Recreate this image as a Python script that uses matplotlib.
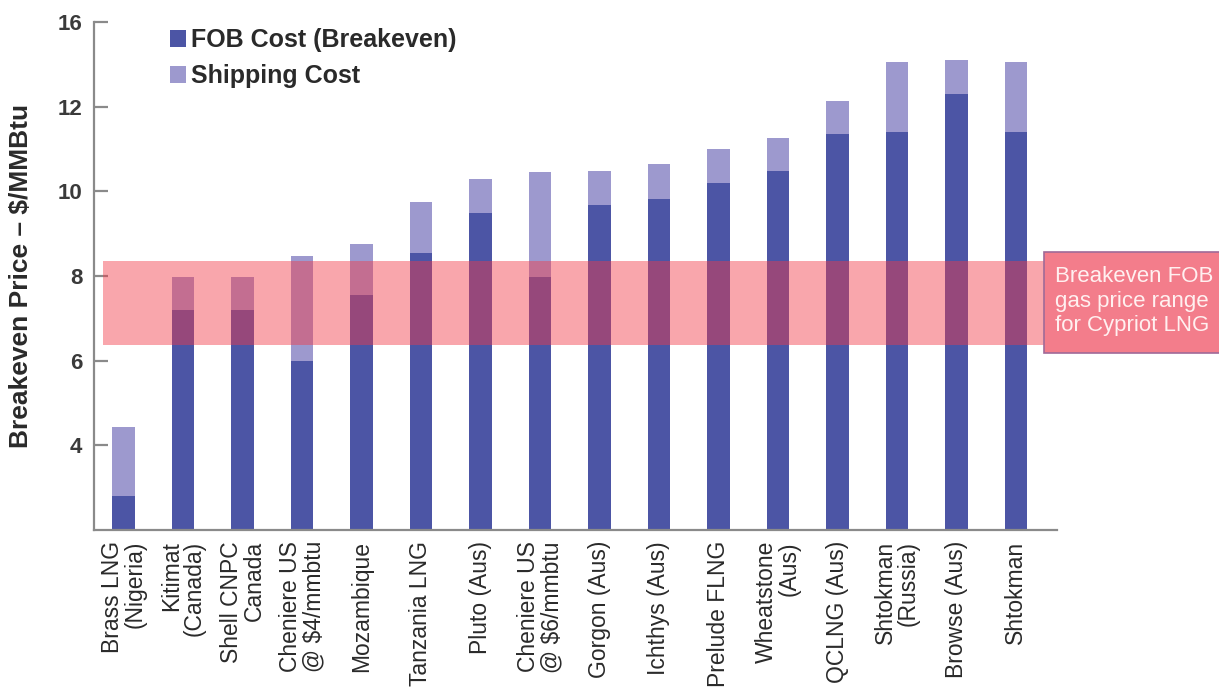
import matplotlib
matplotlib.use("Agg")
import matplotlib.pyplot as plt
from matplotlib.patches import Rectangle
import numpy as np

plt.rcParams['font.family'] = ['Liberation Sans', 'DejaVu Sans']

categories = ["Brass LNG\n(Nigeria)", "Kitimat\n(Canada)", "Shell CNPC\nCanada",
              "Cheniere US\n@ $4/mmbtu", "Mozambique", "Tanzania LNG", "Pluto (Aus)",
              "Cheniere US\n@ $6/mmbtu", "Gorgon (Aus)", "Ichthys (Aus)", "Prelude FLNG",
              "Wheatstone\n(Aus)", "QCLNG (Aus)", "Shtokman\n(Russia)", "Browse (Aus)", "Shtokman"]
fob_cost = [2.8, 7.2, 7.2, 6.0, 7.55, 8.55, 9.5, 7.97, 9.68, 9.83, 10.2, 10.47, 11.35, 11.39, 12.3, 11.39]
total_cost = [4.43, 7.98, 7.98, 8.47, 8.76, 9.75, 10.28, 10.46, 10.48, 10.65, 11.0, 11.27, 12.14, 13.05, 13.1, 13.05]
shipping_cost = [t - f for t, f in zip(total_cost, fob_cost)]
band_range = [6.38, 8.35]
ytick_values = [4, 6, 8, 10, 12, 14]
ytick_labels = ["4", "6", "8", "10", "12", "16"]
legend_labels = ["FOB Cost (Breakeven)", "Shipping Cost"]
band_text = "Breakeven FOB\ngas price range\nfor Cypriot LNG"
ylabel = "Breakeven Price \u2013 $/MMBtu"

W, H = 1219, 695
fig = plt.figure(figsize=(W / 100, H / 100), dpi=100)
ax = fig.add_axes([94 / W, 1 - 530 / H, (1057 - 94) / W, (530 - 22) / H])

dark = "#4C55A5"
light = "#9D99CE"
x = np.arange(len(categories))
bw = 0.38
ax.bar(x, fob_cost, width=bw, color=dark, bottom=0, zorder=2, label=legend_labels[0])
ax.bar(x, shipping_cost, width=bw, bottom=fob_cost, color=light, zorder=2, label=legend_labels[1])

ax.set_xlim(-0.496, 15.69)
ax.set_ylim(2.0, 14.0)

# band
band = Rectangle((-0.345, band_range[0]), 15.69 + 0.345, band_range[1] - band_range[0],
                 facecolor="#F23A48", alpha=0.45, edgecolor="none", zorder=3, clip_on=False)
ax.add_patch(band)

# annotation box in figure pixels
box = Rectangle((1044 / W, 1 - 353 / H), (W - 1044) / W + 0.01, (353 - 252) / H,
                transform=fig.transFigure, facecolor="#F37D8B", edgecolor="#A06A98",
                linewidth=1.2, zorder=5)
fig.patches.append(box)
fig.text(1055 / W, 1 - 301 / H, band_text, color="#FFF0F0", fontsize=16,
         ha="left", va="center", linespacing=1.22, zorder=6)

for s in ["top", "right"]:
    ax.spines[s].set_visible(False)
for s in ["left", "bottom"]:
    ax.spines[s].set_color("#8A8A8A")
    ax.spines[s].set_linewidth(1.6)

ax.set_yticks(ytick_values)
ax.set_yticklabels(ytick_labels, fontsize=16, fontweight="bold", color="#3A3A3A")
ax.tick_params(axis="y", direction="in", length=10, width=1.6, color="#8A8A8A", pad=8.5)
ax.set_xticks(x)
ax.set_xticklabels(categories, rotation=90, fontsize=16.5, color="#2A2A2A",
                   multialignment="right", linespacing=1.0)
ax.tick_params(axis="x", length=0, pad=8)

ax.set_ylabel(ylabel, fontsize=19, fontweight="bold", color="#2A2A2A")
ax.yaxis.set_label_coords(-0.063, 0.5)

leg = ax.legend(loc="upper left", bbox_to_anchor=(170 / W, 1 - 28 / H),
                bbox_transform=fig.transFigure, frameon=False,
                prop={"size": 18, "weight": "bold"},
                handlelength=0.65, handleheight=0.65, handletextpad=0.2,
                labelspacing=0.5, borderaxespad=0, borderpad=0)
for t in leg.get_texts():
    t.set_color("#2A2A2A")

fig.savefig("out.png", dpi=100)
